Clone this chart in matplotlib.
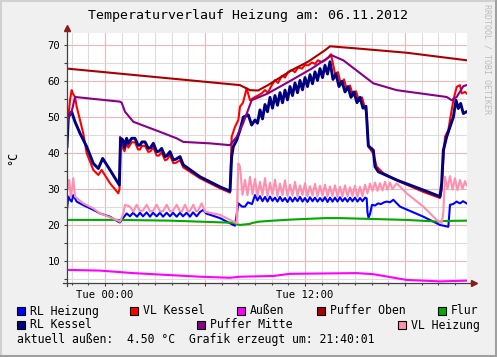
import matplotlib

matplotlib.use("Agg")
import matplotlib.pyplot as plt
from matplotlib.patches import Rectangle
from matplotlib.lines import Line2D

# hours relative to Tue 00:00 (window ends at 21:40)
TITLE = "Temperaturverlauf Heizung am: 06.11.2012"
Y_LABEL = "°C"
X_TICK_LABELS = ["Tue 00:00", "Tue 12:00"]
Y_TICKS = [10, 20, 30, 40, 50, 60, 70]
FOOTER = "aktuell außen:  4.50 °C  Grafik erzeugt um: 21:40:01"
WATERMARK = "RRDTOOL / TOBI OETIKER"

rl_heizung_t = [-2.28, -2.20, -2.10, -2.00, -1.90, -1.70, -1.30, -0.70, -0.30, 0.30, 0.80, 0.90, 1.00,
                1.30, 1.50, 1.68, 1.92, 2.10, 2.28, 2.50, 2.70, 2.88, 3.10, 3.30, 3.48, 3.70, 3.90, 4.08,
                4.30, 4.50, 4.68, 4.90, 5.10, 5.28, 5.50, 5.70, 5.90, 6.06, 6.90, 7.70, 7.80, 8.00, 8.10,
                8.22, 8.40, 8.58, 8.82, 9.00, 9.15, 9.30, 9.45, 9.60, 9.75, 9.90, 10.05, 10.20, 10.35,
                10.50, 10.65, 10.80, 10.95, 11.10, 11.25, 11.40, 11.55, 11.70, 11.85, 12.00, 12.15, 12.30,
                12.45, 12.60, 12.75, 12.90, 13.05, 13.20, 13.35, 13.50, 13.65, 13.80, 13.95, 14.10, 14.25,
                14.40, 14.55, 14.70, 14.85, 15.00, 15.15, 15.30, 15.45, 15.60, 15.70, 15.75, 15.81, 15.90,
                16.02, 16.20, 16.38, 16.56, 16.74, 16.92, 17.10, 17.30, 17.70, 19.10, 20.10, 20.60, 20.70,
                20.88, 21.10, 21.30, 21.48, 21.70]
rl_heizung_v = [24.2, 27.9, 27.0, 26.5, 28.3, 26.5, 25.5, 24.2, 23.2, 22.3, 20.9, 20.7, 21.4,
                23.2, 22.4, 23.4, 22.3, 23.4, 22.4, 23.5, 22.3, 23.4, 22.4, 23.4, 22.3, 23.4, 22.4, 23.4,
                22.3, 23.4, 22.4, 23.4, 22.3, 23.5, 22.4, 23.6, 24.2, 23.2, 21.9, 20.0, 19.8, 26.0, 25.6,
                25.1, 25.1, 26.3, 25.8, 28.3, 26.8, 28.0, 26.6, 27.8, 26.5, 27.9, 26.7, 27.6, 26.5,
                27.8, 26.6, 27.5, 26.4, 27.7, 26.5, 27.6, 26.6, 27.8, 26.5, 27.5, 26.4, 27.7,
                26.6, 27.6, 26.5, 27.5, 26.6, 27.7, 26.4, 27.6, 26.5, 27.6, 26.5, 27.7, 26.6,
                27.5, 26.5, 27.6, 26.6, 27.6, 26.5, 27.5, 26.6, 27.6, 27.4, 23.5, 22.0, 23.0,
                25.6, 25.4, 26.0, 25.8, 26.3, 26.5, 26.3, 27.0, 25.1, 22.3, 20.0, 19.5, 25.6,
                25.8, 26.5, 26.0, 26.6, 26.0]

vl_kessel_t = [-2.28, -2.20, -2.10, -2.00, -1.92, -1.80, -1.70, -1.50, -1.30, -1.10, -0.70, -0.40, -0.20,
               0.30, 0.80, 0.87, 0.90, 1.08, 1.17, 1.30, 1.40, 1.60, 1.80, 1.98, 2.10, 2.22, 2.40, 2.60,
               2.73, 2.90, 3.10, 3.24, 3.40, 3.60, 3.72, 3.90, 4.10, 4.26, 4.50, 4.70, 5.70, 6.90, 7.50,
               7.60, 7.80, 8.00, 8.10, 8.28, 8.50, 8.70, 9.00, 9.18, 9.40, 9.60, 9.78, 9.96, 10.20, 10.38,
               10.62, 10.80, 10.98, 11.20, 11.40, 11.58, 11.82, 12.00, 12.20, 12.42, 12.60, 12.78, 13.02,
               13.20, 13.38, 13.56, 13.80, 13.98, 14.16, 14.34, 14.52, 14.70, 14.88, 15.06, 15.24, 15.42,
               15.60, 15.70, 15.80, 16.10, 16.30, 16.70, 17.70, 19.10, 20.10, 20.20, 20.30, 20.40, 20.60,
               20.70, 20.90, 21.10, 21.30, 21.40, 21.60, 21.70]
vl_kessel_v = [48.3, 50.0, 54.7, 57.5, 56.5, 55.6, 52.9, 49.2, 45.4, 40.0, 35.3, 33.9, 35.3,
               31.6, 28.8, 30.0, 44.5, 41.3, 40.5, 43.0, 41.5, 43.0, 43.0, 41.0, 41.0, 42.0, 42.0, 40.3,
               40.5, 41.6, 39.3, 39.3, 40.2, 38.0, 38.2, 39.4, 37.2, 37.3, 38.0, 36.0, 33.0, 30.2, 29.0,
               44.5, 47.3, 49.2, 52.9, 54.0, 58.0, 54.7, 55.6, 56.0, 56.6, 57.5, 56.8, 58.5, 60.3, 59.5,
               61.5, 61.0, 62.5, 63.1, 62.5, 63.8, 63.5, 64.5, 64.4, 65.2, 64.8, 65.8, 65.3,
               65.8, 66.5, 67.5, 62.1, 62.5, 59.0, 60.5, 57.5, 58.8, 56.0, 57.2, 54.5, 55.5,
               52.5, 51.0, 41.8, 39.9, 36.2, 34.4, 32.0, 29.2, 27.5, 29.7, 38.0, 44.5, 46.4,
               49.2, 54.7, 58.4, 58.9, 56.6, 57.0, 56.6]

aussen_t = [-2.28, -0.30, 1.70, 3.70, 5.70, 7.50, 8.10, 10.10, 11.10, 15.10, 16.10, 17.10, 18.10, 20.10, 21.70]
aussen_v = [7.5, 7.3, 6.6, 6.1, 5.6, 5.3, 5.6, 5.8, 6.4, 6.6, 6.3, 5.5, 4.7, 4.3, 4.5]

puffer_oben_t = [-2.28, 8.10, 8.70, 9.18, 9.78, 11.22, 12.18, 13.20, 13.50, 15.12, 18.12, 21.72]
puffer_oben_v = [63.5, 58.9, 57.5, 57.4, 58.9, 63.1, 65.4, 68.6, 69.7, 69.1, 67.9, 65.8]

flur_t = [-2.28, 0.90, 3.90, 7.70, 7.90, 8.10, 8.70, 8.80, 9.20, 10.10, 11.20, 13.20, 14.10, 15.70,
          18.10, 20.10, 20.28, 21.70]
flur_v = [21.4, 21.4, 21.2, 20.6, 20.2, 20.0, 20.3, 20.5, 20.9, 21.2, 21.5, 21.9, 21.9, 21.7,
          21.4, 20.9, 21.1, 21.2]

rl_kessel_t = [-2.28, -2.20, -2.00, -1.80, -1.50, -1.10, -0.70, -0.40, -0.14, 0.30, 0.86, 0.94, 1.08,
               1.17, 1.30, 1.40, 1.60, 1.80, 1.98, 2.10, 2.22, 2.40, 2.60, 2.73, 2.90, 3.10, 3.24, 3.40,
               3.60, 3.72, 3.90, 4.10, 4.26, 4.50, 4.70, 5.70, 6.90, 7.50, 7.60, 7.70, 7.90, 8.10, 8.30,
               8.60, 8.80, 9.00, 9.15, 9.30, 9.45, 9.60, 9.75, 9.90, 10.05, 10.20, 10.35, 10.50, 10.65,
               10.80, 10.95, 11.10, 11.25, 11.40, 11.55, 11.70, 11.85, 12.00, 12.15, 12.30, 12.45, 12.60,
               12.75, 12.90, 13.05, 13.20, 13.35, 13.50, 13.68, 13.86, 14.04, 14.22, 14.40, 14.58, 14.76,
               14.94, 15.12, 15.30, 15.48, 15.66, 15.80, 16.10, 16.20, 16.40, 17.50, 19.10, 20.10, 20.20,
               20.30, 20.50, 20.70, 20.90, 21.06, 21.20, 21.34, 21.50, 21.70]
rl_kessel_v = [41.8, 50.0, 51.5, 48.7, 45.5, 41.8, 37.1, 35.7, 38.5, 35.3, 31.1, 44.1, 43.6,
               41.5, 44.1, 42.7, 44.1, 44.1, 42.2, 42.2, 43.1, 43.1, 41.3, 41.5, 42.7, 40.4, 40.5, 41.3,
               39.0, 39.3, 40.4, 38.1, 38.3, 39.0, 36.7, 33.4, 30.6, 29.4, 39.0, 41.8, 43.6, 46.4, 50.0,
               50.6, 47.8, 49.2, 48.3, 52.0, 49.5, 53.5, 51.5, 55.5, 52.5, 56.0, 53.3, 56.8, 54.0,
               57.5, 54.8, 58.5, 56.0, 59.5, 56.8, 60.2, 57.6, 61.0, 58.5, 61.8, 59.3, 62.6,
               60.2, 63.5, 61.0, 64.4, 62.0, 65.4, 60.5, 62.0, 58.5, 60.0, 57.0, 58.5, 55.5,
               57.0, 54.0, 55.5, 52.5, 53.0, 42.0, 40.8, 36.2, 34.8, 32.5, 29.7, 27.9, 31.6,
               40.8, 44.5, 47.3, 50.0, 54.7, 52.4, 53.8, 51.0, 51.5]

puffer_mitte_t = [-2.28, -2.20, -2.00, -1.80, 0.90, 1.00, 1.20, 1.70, 3.30, 4.30, 4.70, 6.30, 7.50, 7.90,
                  8.28, 8.80, 9.78, 11.20, 12.40, 13.60, 14.30, 16.10, 17.50, 20.50, 20.80, 21.10, 21.50, 21.70]
puffer_mitte_v = [47.5, 50.0, 51.5, 55.6, 54.3, 54.0, 51.5, 48.7, 45.9, 44.1, 43.1, 42.7, 42.2, 44.5,
                  48.2, 54.7, 56.6, 60.3, 63.5, 67.2, 65.8, 59.4, 57.5, 55.6, 54.7, 55.6, 58.6, 58.9]

vl_heizung_t = [-2.28, -2.26, -2.14, -2.06, -1.98, -1.90, -1.80, -1.30, -0.70, -0.30, 0.70, 0.90, 1.10,
                1.20, 1.50, 1.70, 1.90, 2.10, 2.28, 2.50, 2.70, 2.88, 3.10, 3.30, 3.48, 3.70, 3.90, 4.08,
                4.30, 4.50, 4.62, 4.80, 4.98, 5.10, 5.30, 5.46, 5.58, 5.80, 6.00, 6.90, 7.90, 7.95, 8.00,
                8.10, 8.25, 8.40, 8.55, 8.70, 8.85, 9.00, 9.15, 9.30, 9.45, 9.60, 9.75, 9.90, 10.05, 10.20,
                10.35, 10.50, 10.65, 10.80, 10.95, 11.10, 11.25, 11.40, 11.55, 11.70, 11.85, 12.00, 12.15,
                12.30, 12.45, 12.60, 12.75, 12.90, 13.05, 13.20, 13.35, 13.50, 13.65, 13.80, 13.95, 14.10,
                14.25, 14.40, 14.55, 14.70, 14.85, 15.00, 15.15, 15.30, 15.45, 15.60, 15.75, 15.90, 16.05,
                16.20, 16.35, 16.50, 16.65, 16.80, 16.95, 17.10, 17.25, 17.50, 18.10, 19.10, 19.90, 20.20,
                20.30, 20.40, 20.55, 20.70, 20.85, 21.00, 21.15, 21.30, 21.45, 21.60, 21.70]
vl_heizung_v = [34.7, 29.7, 32.5, 27.9, 30.0, 33.0, 27.9, 26.0, 24.6, 23.2, 21.4, 20.9, 23.2,
                25.6, 25.1, 23.7, 25.6, 23.9, 24.0, 25.6, 23.8, 23.9, 25.6, 23.8, 23.8, 25.6, 23.8, 23.9,
                25.6, 23.8, 23.8, 25.6, 23.8, 23.9, 25.6, 23.8, 24.0, 26.0, 23.7, 22.8, 20.5, 29.7, 37.1,
                36.2, 28.4, 32.5, 28.3, 33.4, 28.5, 32.8, 28.1, 32.0, 28.3, 33.0, 28.0, 31.8, 28.4, 32.6,
                28.0, 31.5, 28.3, 32.4, 28.1, 31.2, 28.2, 32.0, 28.0, 31.0, 28.3, 31.6, 28.0,
                30.8, 28.2, 31.4, 28.0, 30.9, 28.1, 31.2, 28.0, 30.7, 28.1, 31.0, 27.9, 30.6,
                28.0, 31.0, 28.0, 30.5, 28.1, 30.9, 27.9, 30.6, 28.0, 31.2, 28.8, 31.5, 29.5,
                31.8, 29.5, 31.6, 29.6, 32.0, 29.8, 31.8, 30.0, 31.6, 28.8, 25.1, 21.4, 20.5,
                23.5, 33.4, 30.0, 33.6, 29.8, 33.0, 29.7, 32.5, 30.0, 32.2, 31.0]

# legend / draw order as in the original graph
series = [
    ("RL Heizung", rl_heizung_t, rl_heizung_v, "#0000ff"),
    ("VL Kessel", vl_kessel_t, vl_kessel_v, "#ff0000"),
    ("Außen", aussen_t, aussen_v, "#ff00ff"),
    ("Puffer Oben", puffer_oben_t, puffer_oben_v, "#aa0000"),
    ("Flur", flur_t, flur_v, "#00aa00"),
    ("RL Kessel", rl_kessel_t, rl_kessel_v, "#000080"),
    ("Puffer Mitte", puffer_mitte_t, puffer_mitte_v, "#880088"),
    ("VL Heizung", vl_heizung_t, vl_heizung_v, "#ff8fb0"),
]
# legend slots: (row, x pixel of the colour box)
legend_slots = [(0, 17), (0, 130), (0, 237), (0, 317), (0, 438), (1, 17), (1, 197), (1, 398)]

W, H = 497, 357
MONO = "DejaVu Sans Mono"
plt.rcParams["font.family"] = MONO

fig = plt.figure(figsize=(W / 100, H / 100), dpi=100, facecolor="#f0f0f0")
ax = fig.add_axes([67 / W, 1 - 283 / H, 400 / W, 250 / H])
ax.set_facecolor("white")

for name, t, v, c in series:
    ax.plot(t, v, color=c, lw=2.1 if name == "RL Kessel" else 1.5)

ax.set_xlim(-2.28, 21.72)
ax.set_ylim(3.85, 73.4)

ax.set_xticks([0, 6, 12, 18])
ax.set_xticklabels([X_TICK_LABELS[0], "", X_TICK_LABELS[1], ""])
ax.set_xticks(range(-2, 22), minor=True)
ax.set_yticks(Y_TICKS)
ax.set_yticks(range(5, 75, 5), minor=True)
ax.grid(which="minor", color="#dcdcdc", lw=0.8)
ax.grid(which="major", color="#efb8b8", lw=0.8)
ax.set_axisbelow(True)
ax.tick_params(which="both", labelsize=7.6, length=2, width=0.8, color="#404040", pad=3)
ax.tick_params(axis="x", which="minor", length=1.5)
for s in ax.spines.values():
    s.set_visible(False)

# axis lines with rrdtool-style arrows
ax.plot([-0.01, 1.015], [0, 0], color="#404040", lw=0.9, transform=ax.transAxes, clip_on=False)
ax.plot([0, 0], [-0.012, 1.02], color="#404040", lw=0.9, transform=ax.transAxes, clip_on=False)
ax.plot([1.017], [0], marker=">", ms=4, color="#8b1a1a", transform=ax.transAxes, clip_on=False)
ax.plot([0], [1.022], marker="^", ms=4, color="#8b1a1a", transform=ax.transAxes, clip_on=False)

fig.text(0.5, 1 - 16 / H, TITLE, ha="center", va="center", fontsize=9.5)
fig.text(13 / W, 1 - 158 / H, Y_LABEL, rotation=90, ha="center", va="center", fontsize=8.5)
fig.text(487 / W, 1 - 4 / H, WATERMARK, rotation=270, ha="center", va="top", fontsize=6.0, color="#bcbcbc")

row_y = [311, 325]
for (name, _, _, c), (row, bx) in zip(series, legend_slots):
    y = row_y[row]
    fig.patches.append(Rectangle((bx / W, 1 - (y + 4) / H), 8 / W, 8 / H, transform=fig.transFigure,
                                 facecolor=c, edgecolor="black", lw=0.8))
    fig.text((bx + 13) / W, 1 - y / H, name, ha="left", va="center", fontsize=8.3)
fig.text(17 / W, 1 - 339 / H, FOOTER, ha="left", va="center", fontsize=8.3)

# 3d frame around the canvas
fig.lines.append(Line2D([0, 1], [1 - 1 / H, 1 - 1 / H], transform=fig.transFigure, color="#d0d0d0", lw=1.5))
fig.lines.append(Line2D([1 / W, 1 / W], [0, 1], transform=fig.transFigure, color="#d0d0d0", lw=1.5))
fig.lines.append(Line2D([1 - 1.5 / W, 1 - 1.5 / W], [0, 1], transform=fig.transFigure, color="#a0a0a0", lw=2.2))
fig.lines.append(Line2D([0, 1], [1.5 / H, 1.5 / H], transform=fig.transFigure, color="#a0a0a0", lw=2.2))

fig.savefig("out.png", dpi=100, facecolor=fig.get_facecolor())
